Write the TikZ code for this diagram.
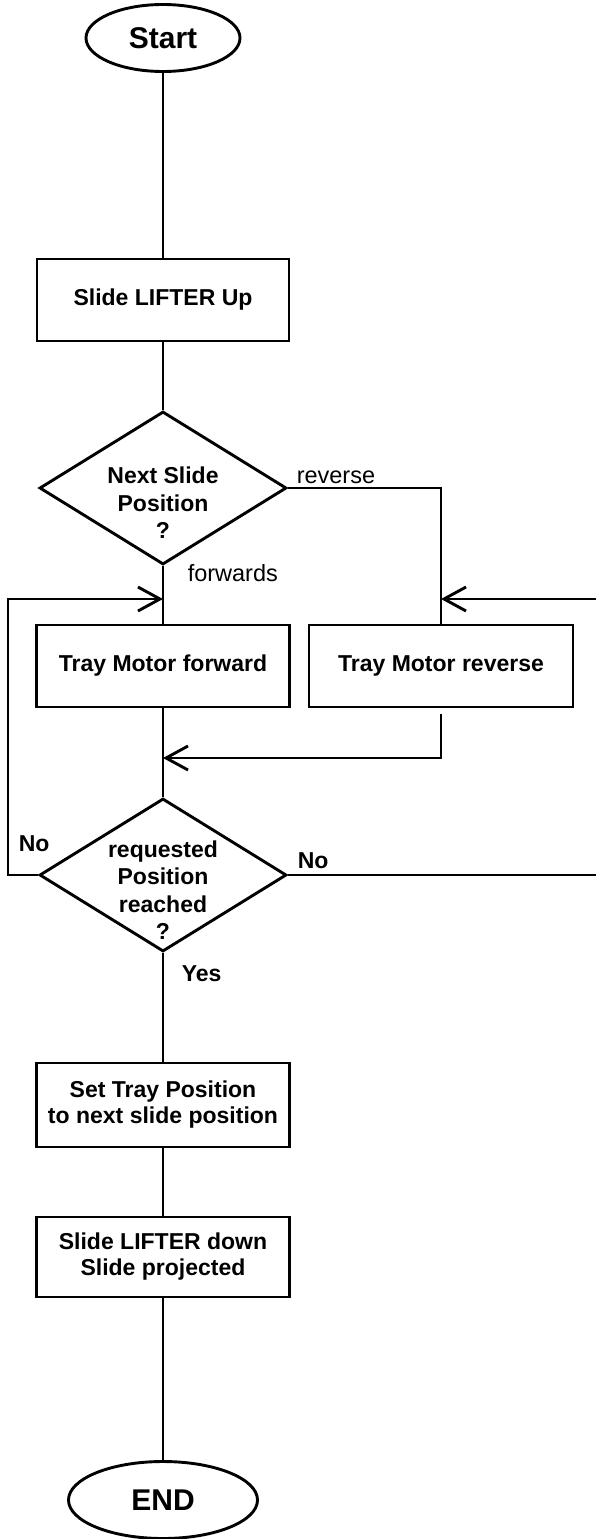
\documentclass[tikz,border=0pt]{standalone}
\usepackage{fontspec}
\setmainfont{Liberation Sans}
\usetikzlibrary{shapes.geometric, arrows.meta}

\begin{document}
\begin{tikzpicture}[x=1pt, y=-1pt, line width=2.9pt,
  term/.style = {draw, ellipse, inner sep=0pt, font=\fontsize{30}{34}\selectfont\bfseries},
  box/.style = {draw, rectangle, inner sep=0pt, align=center, minimum width=253pt, font=\fontsize{23}{26}\selectfont\bfseries},
  decide/.style = {draw, diamond, inner sep=0pt, minimum width=247pt, minimum height=153pt},
  qtext/.style = {align=center, yshift=-15pt, font=\fontsize{23}{27.5}\selectfont\bfseries},
  lbl/.style = {anchor=base west, font=\fontsize{23.5}{26}\selectfont},
  arr/.style = {-{Straight Barb[length=22pt, width=24pt]}}]
\clip (0,0) rectangle (596,1539);
\node[term, minimum width=154pt, minimum height=67pt] (start) at (163,38) {Start};
\node[box, minimum width=252pt, minimum height=82pt] (up) at (163,300) {Slide LIFTER Up};
\node[decide, label={[qtext]center:Next Slide\\Position\\?}] (q1) at (163,488) {};
\node[box, minimum height=82pt] (fwd) at (163,666) {Tray Motor forward};
\node[box, minimum width=264pt, minimum height=82pt] (rev) at (441,666) {Tray Motor reverse};
\node[decide, label={[qtext]center:requested\\Position\\reached\\?}] (q2) at (163,875) {};
\node[box, minimum height=84pt] (settray) at (163,1105) {Set Tray Position\\to next slide position};
\node[box, minimum height=80pt] (down) at (163,1257) {Slide LIFTER down\\Slide projected};
\node[term, minimum width=189pt, minimum height=77pt] (stop) at (163,1500) {END};
\coordinate (lside) at (8,599);
\coordinate (rside) at (608,599);
\coordinate (fwdin) at (fwd.north |- lside);
\coordinate (revin) at (rev.north |- lside);
\coordinate (join) at (163,758);
\draw (start) -- (up);
\draw (up) -- (q1);
\draw (q1) -- (fwd);
\draw (q1.east) -| (rev.north);
\draw (fwd) -- (q2);
\draw[arr] ([yshift=-6pt]rev.south) |- (join);
\draw[arr] (q2.west) -| (lside) -- (fwdin);
\draw[arr] (q2.east) -| (rside) -- (revin);
\draw (q2) -- (settray);
\draw (settray) -- (down);
\draw (down) -- (stop);
\node[lbl] (reverse) at (292,483) {reverse};
\node[lbl] (forwards) at (183,581) {forwards};
\node[lbl, font=\fontsize{23}{26}\selectfont\bfseries] (nol) at (14,851) {No};
\node[lbl, font=\fontsize{23}{26}\selectfont\bfseries] (nor) at (293,868) {No};
\node[lbl, font=\fontsize{23}{26}\selectfont\bfseries] (yes) at (177,981) {Yes};
\end{tikzpicture}
\end{document}
